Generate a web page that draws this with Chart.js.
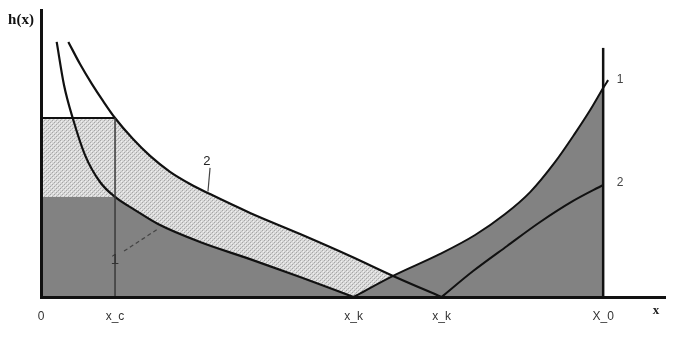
<!DOCTYPE html>
<html><head><meta charset="utf-8">
<script src="https://cdn.jsdelivr.net/npm/chart.js@4/dist/chart.umd.min.js"></script>
<style>html,body{margin:0;padding:0;background:#fff}canvas{display:block}</style>
</head><body>
<canvas id="c" width="673" height="345"></canvas>
<script>
// ---- data (x: 0..X_0=100, h: 0..~100) ----
const curve1LeftX  = [2.79, 4.09, 5.64, 7.83, 10.50, 13.17, 16.73, 20.82, 28.29, 37.19, 46.09, 55.6];
const curve1LeftY  = [89.5, 74.4, 62.8, 49.8, 40.35, 35.1, 30.5, 25.6, 19.3, 13.3, 7.0, 0];
const curve1RightX = [55.6, 62.63, 71.0, 77.22, 82.56, 87.01, 91.46, 95.02, 97.69, 100, 100.89];
const curve1RightY = [0, 7.4, 15.1, 21.75, 29.1, 36.8, 47.4, 57.5, 65.6, 73.3, 76.1];
const curve2LeftX  = [4.86, 6.94, 9.07, 11.03, 13.17, 16.37, 19.40, 22.95, 26.51, 30.07, 37.19, 46.09, 54.98, 62.63, 71.26];
const curve2LeftY  = [89.5, 81.75, 74.7, 68.8, 62.8, 55.4, 49.5, 43.9, 39.65, 36.1, 29.5, 22.1, 14.4, 7.4, 0];
const curve2RightX = [71.26, 76.87, 82.92, 88.79, 94.66, 100];
const curve2RightY = [0, 9.1, 17.9, 26.3, 33.7, 39.3];
const xC = 13.17, xK1 = 55.6, xK2 = 71.26, xCross = 62.63, X0 = 100;
const hHigh = 62.8, hLow = 35.1, wallTop = 87.4;
const tickValues = [0, xC, xK1, xK2, X0];
const tickLabels = ['0', 'x_c', 'x_k', 'x_k', 'X_0'];
const leader1X = [14.77, 20.82], leader1Y = [16.1, 23.9];
const leader2X = [30.07, 29.7],  leader2Y = [45.3, 37.0];
const noteTexts = ['h(x)', 'x', '1', '2', '1', '2'];
const noteX = [-3.56, 109.4, 13.17, 29.5, 103.0, 103.0];
const noteY = [97.2, -4.9, 13.0, 47.7, 76.1, 40.0];

// ---- helpers ----
const pts = (xs, ys) => xs.map((x, i) => ({x, y: ys[i]}));
const between = (xs, ys, a, b) => pts(xs, ys).filter(p => p.x >= a && p.x <= b);

function dotPattern() {
  const c = document.createElement('canvas'); c.width = 4; c.height = 4;
  const g = c.getContext('2d');
  g.fillStyle = '#dadada'; g.fillRect(0, 0, 4, 4);
  g.fillStyle = '#a6a6a6'; g.fillRect(0, 0, 1, 1); g.fillRect(2, 2, 1, 1);
  g.fillStyle = '#c2c2c2'; g.fillRect(1, 3, 1, 1); g.fillRect(3, 1, 1, 1);
  g.fillStyle = '#f0f0f0'; g.fillRect(1, 1, 1, 1); g.fillRect(3, 3, 1, 1);
  return g.createPattern(c, 'repeat');
}
const DOTS = dotPattern();
const DARK = '#828282';
const NONE = 'rgba(0,0,0,0)';

const area = (data, color, order, mono) => ({
  data, fill: 'origin', backgroundColor: color, borderColor: NONE, borderWidth: 0,
  pointRadius: 0, order, cubicInterpolationMode: mono ? 'monotone' : 'default', tension: 0
});
const stroke = (data, color, width, mono, dash) => ({
  data, fill: false, borderColor: color, borderWidth: width, borderDash: dash || [],
  pointRadius: 0, order: 1, cubicInterpolationMode: mono ? 'monotone' : 'default', tension: 0
});

const datasets = [
  // dotted band (drawn first)
  area(pts([0, xC], [hHigh, hHigh]), DOTS, 20, false),
  area(between(curve2LeftX, curve2LeftY, xC, xCross), DOTS, 20, true),
  // dark region
  area(pts([0, xC], [hLow, hLow]), DARK, 10, false),
  area(between(curve1LeftX, curve1LeftY, xC, xK1), DARK, 10, true),
  area(between(curve1RightX, curve1RightY, xK1, X0), DARK, 10, true),
  // lines
  stroke(pts([xC, xC], [0, hHigh]), '#3a3a3a', 1.5, false),
  stroke(pts([0, xC], [hHigh, hHigh]), '#111', 2.2, false),
  stroke(pts(curve1LeftX, curve1LeftY), '#111', 2.2, true),
  stroke(pts(curve1RightX, curve1RightY), '#111', 2, true),
  stroke(pts(curve2LeftX, curve2LeftY), '#111', 2.2, true),
  stroke(pts(curve2RightX, curve2RightY), '#111', 2, true),
  stroke(pts([X0, X0], [0, wallTop]), '#111', 2.5, false),
  stroke(pts(leader1X, leader1Y), '#444', 1.2, false, [4, 3]),
  stroke(pts(leader2X, leader2Y), '#444', 1.2, false),
];

const noteStyles = [
  {font: 'bold 15px "Liberation Serif"', color: '#111'},
  {font: 'bold 13px "Liberation Serif"', color: '#222'},
  {font: '15px "Liberation Sans"', color: '#333'},
  {font: '13px "Liberation Sans"', color: '#222'},
  {font: '12px "Liberation Sans"', color: '#444'},
  {font: '12px "Liberation Sans"', color: '#444'},
];

const notesPlugin = {
  id: 'notes',
  afterDraw(chart) {
    const {ctx, scales: {x, y}} = chart;
    ctx.save();
    ctx.textAlign = 'center'; ctx.textBaseline = 'middle';
    noteTexts.forEach((t, i) => {
      ctx.font = noteStyles[i].font; ctx.fillStyle = noteStyles[i].color;
      ctx.fillText(t, x.getPixelForValue(noteX[i]), y.getPixelForValue(noteY[i]));
    });
    ctx.restore();
  }
};

new Chart(document.getElementById('c'), {
  type: 'line',
  data: {datasets},
  options: {
    responsive: false, animation: false, devicePixelRatio: 1,
    layout: {padding: {top: 10, right: 8, left: 0, bottom: 0}},
    plugins: {legend: {display: false}, tooltip: {enabled: false}},
    scales: {
      x: {
        type: 'linear', min: 0, max: 111,
        grid: {display: false, drawTicks: false},
        border: {display: true, color: '#111', width: 3, z: 2},
        afterBuildTicks: s => { s.ticks = tickValues.map(v => ({value: v})); },
        afterFit: s => { s.height = 48; },
        ticks: {
          autoSkip: false, maxRotation: 0, padding: 12, color: '#333',
          font: {family: 'Liberation Sans', size: 12},
          callback: (v, i) => tickLabels[i]
        }
      },
      y: {
        type: 'linear', min: 0, max: 100.7,
        grid: {display: false, drawTicks: false},
        border: {display: true, color: '#111', width: 3, z: 2},
        ticks: {display: false},
        afterFit: s => { s.width = 41; }
      }
    }
  },
  plugins: [notesPlugin]
});
</script>
</body></html>
